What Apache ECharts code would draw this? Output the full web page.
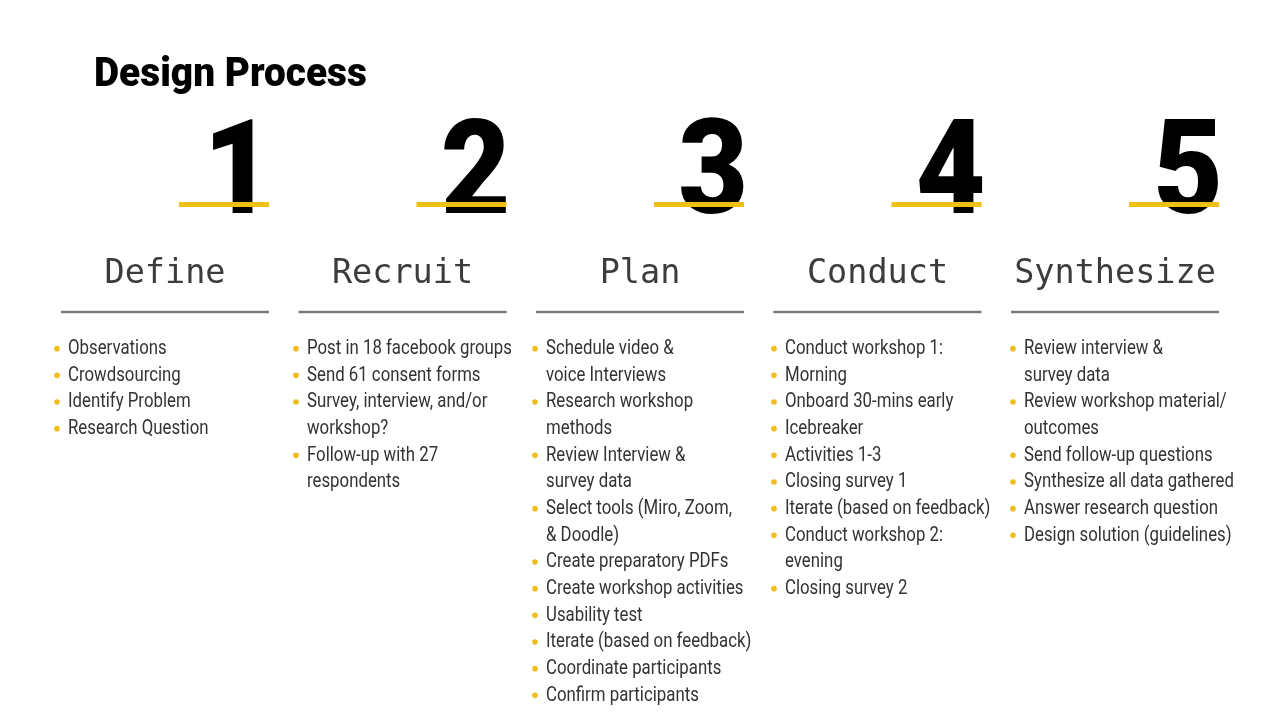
<!DOCTYPE html>
<html>
<head>
<meta charset="utf-8">
<title>Design Process</title>
<script src="https://cdn.jsdelivr.net/npm/echarts@6/dist/echarts.min.js"></script>
<style>
    html, body { margin: 0; padding: 0; background: #fff; }
    #process { width: 1280px; height: 720px; }
</style>
</head>
<body>
<div id="process"></div>
<script>
// Data
var stepNumbers = ['1', '2', '3', '4', '5'];
var stepTitles = ['Define', 'Recruit', 'Plan', 'Conduct', 'Synthesize'];

var defineItems = [
    'Observations',
    'Crowdsourcing',
    'Identify Problem',
    'Research Question'
];
var recruitItems = [
    'Post in 18 facebook groups',
    'Send 61 consent forms',
    'Survey, interview, and/or\nworkshop?',
    'Follow-up with 27\nrespondents'
];
var planItems = [
    'Schedule video &\nvoice Interviews',
    'Research workshop\nmethods',
    'Review Interview &\nsurvey data',
    'Select tools (Miro, Zoom,\n& Doodle)',
    'Create preparatory PDFs',
    'Create workshop activities',
    'Usability test',
    'Iterate (based on feedback)',
    'Coordinate participants',
    'Confirm participants'
];
var conductItems = [
    'Conduct workshop 1:',
    'Morning',
    'Onboard 30-mins early',
    'Icebreaker',
    'Activities 1-3',
    'Closing survey 1',
    'Iterate (based on feedback)',
    'Conduct workshop 2:\nevening',
    'Closing survey 2'
];
var synthesizeItems = [
    'Review interview &\nsurvey data',
    'Review workshop material/\noutcomes',
    'Send follow-up questions',
    'Synthesize all data gathered',
    'Answer research question',
    'Design solution (guidelines)'
];
var stepItems = [defineItems, recruitItems, planItems, conductItems, synthesizeItems];


var EchartsDesignProcess = function() {

    // Styles
    var yellow = '#f2c013';
    var dotYellow = '#f0bd1c';
    var ink = '#333333';
    var headInk = '#3c3c3c';
    var rule = '#7b7b7b';

    // Header rows (in body row units)
    var digitRow = -6.25;
    var yellowRow = -5.33;
    var headingRow = -2.71;
    var ruleRow = -1.3;

    var _designProcess = function() {
        if (typeof echarts == 'undefined') {
            console.warn('Warning - echarts.min.js is not loaded.');
            return;
        }

        // Define element
        var process_element = document.getElementById('process');
        if (!process_element) {
            return;
        }

        // Initialize chart
        var process_chart = echarts.init(process_element, null, { renderer: 'canvas' });

        // Flatten bullet lines: one row per printed line
        var lineData = [];
        var lineTexts = [];
        var lineBullet = [];
        stepItems.forEach(function(items, col) {
            var row = 0;
            items.forEach(function(item) {
                item.split('\n').forEach(function(txt, k) {
                    lineData.push([col, row]);
                    lineTexts.push(txt);
                    lineBullet.push(k === 0);
                    row++;
                });
            });
        });

        var headerData = stepNumbers.map(function(n, i) {
            return [i, 0];
        });

        // Render functions
        var renderHeader = function(params, api) {
            var i = api.value(0);
            var cx = api.coord([i, 0])[0];
            var yDigit = api.coord([i, digitRow])[1];
            var yYellow = api.coord([i, yellowRow])[1];
            var yHead = api.coord([i, headingRow])[1];
            var yRule = api.coord([i, ruleRow])[1];
            return {
                type: 'group',
                children: [{
                    type: 'text',
                    x: cx + 108,
                    y: yDigit,
                    scaleX: 0.92,
                    style: {
                        x: 0, y: 0,
                        text: stepNumbers[params.dataIndex],
                        fontFamily: 'Roboto',
                        fontWeight: 900,
                        fontSize: 131,
                        fill: '#000',
                        align: 'right',
                        verticalAlign: 'middle'
                    }
                }, {
                    type: 'line',
                    shape: { x1: cx + 14, y1: yYellow, x2: cx + 104, y2: yYellow },
                    style: { stroke: yellow, lineWidth: 5 }
                }, {
                    type: 'text',
                    x: cx,
                    y: yHead,
                    style: {
                        x: 0, y: 0,
                        text: stepTitles[params.dataIndex],
                        fontFamily: 'DejaVu Sans Mono',
                        fontSize: 33.5,
                        fill: headInk,
                        align: 'center',
                        verticalAlign: 'middle'
                    }
                }, {
                    type: 'line',
                    shape: { x1: cx - 104, y1: yRule, x2: cx + 104, y2: yRule },
                    style: { stroke: rule, lineWidth: 2.5 }
                }]
            };
        };

        var renderLine = function(params, api) {
            var p = api.coord([api.value(0), api.value(1)]);
            var children = [];
            if (lineBullet[params.dataIndex]) {
                children.push({
                    type: 'circle',
                    shape: { cx: p[0], cy: p[1] + 2, r: 2.8 },
                    style: { fill: dotYellow }
                });
            }
            children.push({
                type: 'text',
                x: p[0] + 11,
                y: p[1] + 2,
                scaleX: 0.8,
                style: {
                    x: 0, y: 0,
                    text: lineTexts[params.dataIndex],
                    fontFamily: 'Roboto',
                    fontWeight: 400,
                    fontSize: 21,
                    fill: ink,
                    align: 'left',
                    verticalAlign: 'middle'
                }
            });
            return { type: 'group', children: children };
        };

        // Options
        process_chart.setOption({
            animation: false,

            // Title
            graphic: [{
                type: 'text',
                x: 94,
                y: 76,
                scaleX: 0.97,
                style: {
                    x: 0, y: 0,
                    text: 'Design Process',
                    fontFamily: 'Roboto',
                    fontWeight: 900,
                    fontSize: 40,
                    fill: '#000',
                    align: 'left',
                    verticalAlign: 'middle'
                }
            }],

            // Body grid (bullets) and header grid (numbers, titles)
            grid: [
                { left: 57, right: 267, top: 0, bottom: 0 },
                { left: 165, right: 165, top: 0, bottom: 0 }
            ],
            xAxis: [
                { type: 'value', gridIndex: 0, min: 0, max: 4, show: false },
                { type: 'value', gridIndex: 1, min: 0, max: 4, show: false }
            ],
            yAxis: [
                { type: 'value', gridIndex: 0, min: -13, max: 14, inverse: true, show: false },
                { type: 'value', gridIndex: 1, min: -13, max: 14, inverse: true, show: false }
            ],

            // Add series
            series: [{
                name: 'Steps',
                type: 'custom',
                xAxisIndex: 1,
                yAxisIndex: 1,
                renderItem: renderHeader,
                data: headerData,
                silent: true,
                clip: false
            }, {
                name: 'Tasks',
                type: 'custom',
                xAxisIndex: 0,
                yAxisIndex: 0,
                renderItem: renderLine,
                data: lineData,
                silent: true,
                clip: false
            }]
        });

        // Resize function
        var resizeCharts;
        window.addEventListener('resize', function() {
            clearTimeout(resizeCharts);
            resizeCharts = setTimeout(function() {
                process_chart.resize();
            }, 200);
        });
    };

    return {
        init: function() {
            _designProcess();
        }
    };
}();


// Initialize module
// ------------------------------

document.addEventListener('DOMContentLoaded', function() {
    EchartsDesignProcess.init();
});
</script>
</body>
</html>
